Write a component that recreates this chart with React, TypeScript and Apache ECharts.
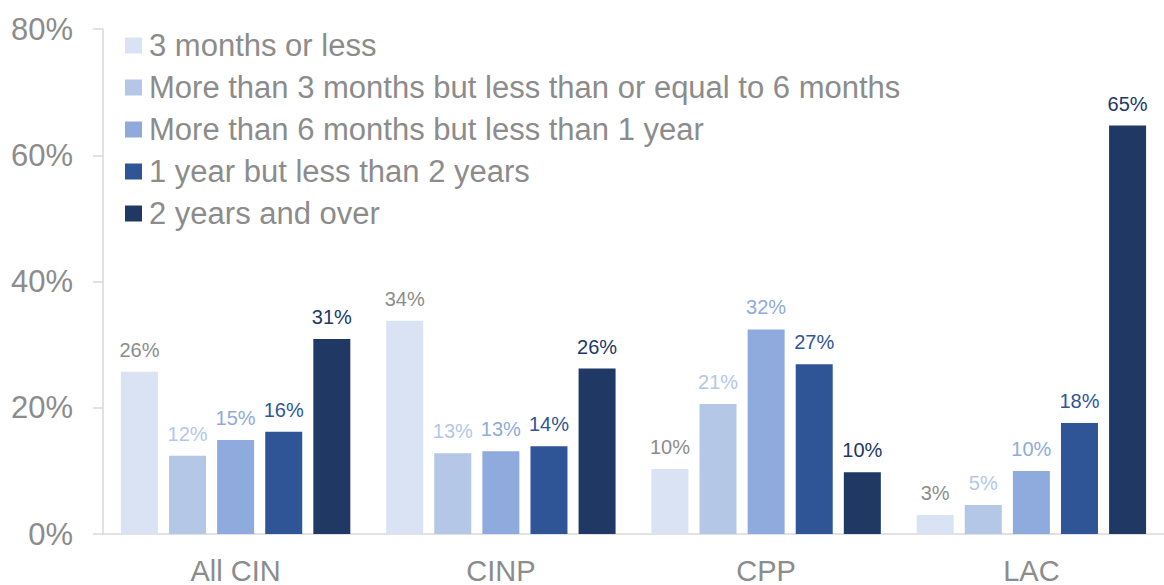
import React, { useEffect, useRef } from "react";
import * as echarts from "echarts";

const categories = ["All CIN", "CINP", "CPP", "LAC"];
const seriesNames = [
  "3 months or less",
  "More than 3 months but less than or equal to 6 months",
  "More than 6 months but less than 1 year",
  "1 year but less than 2 years",
  "2 years and over",
];
const s1 = [25.7, 33.8, 10.3, 3.0];
const s2 = [12.4, 12.8, 20.6, 4.6];
const s3 = [14.9, 13.1, 32.4, 10.0];
const s4 = [16.2, 13.9, 26.9, 17.6];
const s5 = [30.9, 26.2, 9.8, 64.7];
const yTicks = [0, 20, 40, 60, 80];

const barColors = ["#dae3f3", "#b4c7e7", "#8faadc", "#2f5597", "#203864"];
const labelColors = ["#8c8c8c", "#b4c7e7", "#8faadc", "#2f5597", "#203864"];
const FONT = "'Liberation Sans', Arial, sans-serif";

export default function App() {
  const ref = useRef<HTMLDivElement>(null);
  useEffect(() => {
    if (!ref.current) return;
    const chart = echarts.init(ref.current, null, { renderer: "svg" });
    const all = [s1, s2, s3, s4, s5];
    chart.setOption({
      animation: false,
      textStyle: { fontFamily: FONT },
      grid: { left: 103, top: 29, width: 1073, height: 506, containLabel: false },
      legend: {
        orient: "vertical",
        left: 125,
        top: 30,
        padding: 0,
        itemWidth: 17,
        itemHeight: 16,
        itemGap: 11,
        icon: "rect",
        textStyle: { color: "#8c8c8c", fontSize: 31, lineHeight: 31, fontFamily: FONT, padding: [0, 0, 0, 2] },
        data: seriesNames,
      },
      xAxis: {
        type: "category",
        data: categories,
        axisLine: { lineStyle: { color: "#d9d9d9", width: 1.5 } },
        axisTick: { show: false },
        axisLabel: { color: "#8c8c8c", fontSize: 29, lineHeight: 25, margin: 24, fontFamily: FONT },
      },
      yAxis: {
        type: "value",
        min: yTicks[0],
        max: yTicks[yTicks.length - 1],
        interval: 20,
        axisLine: { show: true, lineStyle: { color: "#d9d9d9", width: 1.5 } },
        axisTick: { show: true, length: 10, lineStyle: { color: "#d9d9d9", width: 1.5 } },
        splitLine: { show: false },
        axisLabel: { color: "#8c8c8c", fontSize: 31, margin: 30, formatter: "{value}%", fontFamily: FONT },
      },
      series: all.map((d, i) => ({
        name: seriesNames[i],
        type: "bar",
        data: d,
        barWidth: 37,
        barGap: "30%",
        itemStyle: { color: barColors[i] },
        label: {
          show: true,
          position: "top",
          distance: 12,
          color: labelColors[i],
          fontSize: 20,
          fontFamily: FONT,
          formatter: (p: any) => Math.round(p.value) + "%",
        },
      })),
    });
    return () => chart.dispose();
  }, []);
  return (
    <div
      ref={ref}
      style={{ position: "fixed", left: 0, top: 0, width: 1164, height: 585, background: "#fff" }}
    />
  );
}
